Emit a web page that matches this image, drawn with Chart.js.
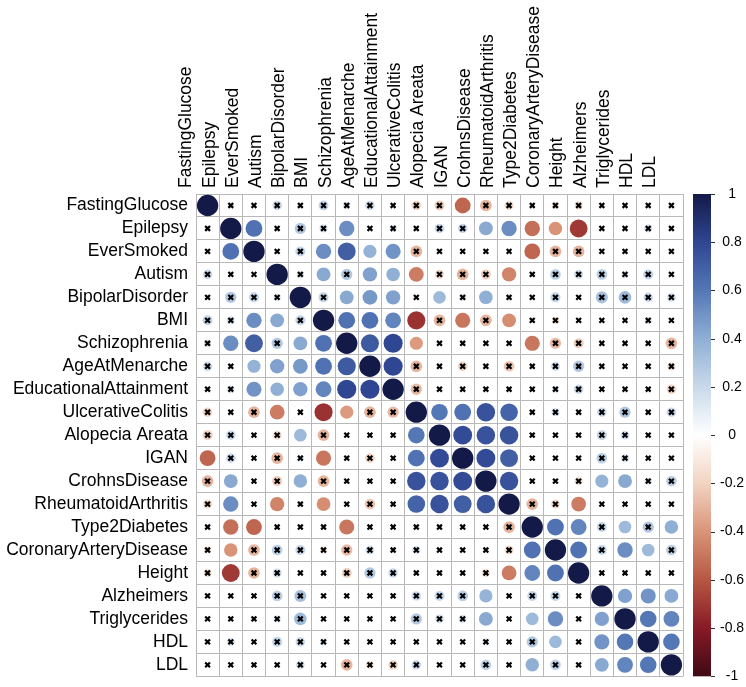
<!DOCTYPE html>
<html>
<head>
<meta charset="utf-8">
<script src="https://cdn.jsdelivr.net/npm/chart.js@4.4.0/dist/chart.umd.min.js"></script>
<style>
  html, body { margin: 0; padding: 0; background: #fff; }
  #wrap { width: 746px; height: 687px; }
</style>
</head>
<body>
<div id="wrap"><canvas id="corr" width="746" height="687"></canvas></div>
<script>
// trait names, same order on both axes
const traits = ['FastingGlucose', 'Epilepsy', 'EverSmoked', 'Autism', 'BipolarDisorder', 'BMI',
    'Schizophrenia', 'AgeAtMenarche', 'EducationalAttainment', 'UlcerativeColitis', 'Alopecia Areata',
    'IGAN', 'CrohnsDisease', 'RheumatoidArthritis', 'Type2Diabetes', 'CoronaryArteryDisease',
    'Height', 'Alzheimers', 'Triglycerides', 'HDL', 'LDL'];

// upper triangle of the correlation matrix, row i holds columns i+1 .. 20
const corrUpper = [
    [-0.07, 0.02, 0.2, -0.07, 0.22, 0.12, 0.2, 0.03, -0.2, -0.22, -0.55, -0.3, -0.18, 0.07, -0.12, -0.15, 0, 0, 0, 0],
    [0.62, -0.07, 0.28, 0.15, 0.52, 0.02, 0.12, 0, 0.2, 0.2, 0.42, 0.52, -0.52, -0.4, -0.7, 0, 0.07, 0.15, 0],
    [0, 0.22, 0.52, 0.7, 0.38, 0.5, -0.3, 0, 0, 0, 0, -0.55, -0.3, -0.3, 0, -0.08, 0, -0.07],
    [0.12, 0.42, 0.28, 0.45, 0.4, -0.48, -0.18, -0.3, -0.22, -0.45, 0.08, 0.25, 0.18, 0.25, 0.12, 0.22, 0],
    [0.22, 0.42, 0.48, 0.45, 0.02, 0.35, 0.12, 0.4, 0.1, 0.05, 0.22, 0.03, 0.32, 0.35, 0.2, 0.17],
    [0.62, 0.62, 0.55, -0.72, -0.3, -0.5, -0.3, -0.42, -0.08, -0.12, 0, 0.03, 0.03, 0.12, 0],
    [0.72, 0.8, -0.38, 0, -0.07, 0, 0, -0.5, -0.28, -0.22, 0, 0, 0, -0.3],
    [0.8, -0.3, 0, -0.2, -0.06, -0.25, 0, 0.18, 0.28, 0, 0, 0, -0.15],
    [-0.28, 0, 0, 0, -0.08, 0, 0.1, 0.2, 0, 0, 0, -0.2],
    [0.6, 0.62, 0.75, 0.68, 0.08, 0.15, 0, 0.2, 0.28, 0, 0.2],
    [0.78, 0.75, 0.75, -0.07, 0, -0.06, 0.22, 0.17, 0, 0],
    [0.78, 0.7, 0, 0, 0, 0.25, 0.15, 0, 0],
    [0.75, 0, 0.08, -0.15, 0.38, 0.42, 0.12, 0.25],
    [-0.3, -0.18, -0.48, 0, 0, -0.04, 0],
    [0.62, 0.55, 0.22, 0.35, 0.28, 0.4],
    [0.62, 0.22, 0.52, 0.35, 0.25],
    [0.05, 0, 0, 0],
    [0.45, 0.5, 0.42],
    [0.6, 0.55],
    [0.6]
];

// 1 = significant (solid circle), 0 = not significant (crossed out)
const sigUpper = [
    [0, 0, 0, 0, 0, 0, 0, 0, 0, 0, 1, 0, 0, 0, 0, 0, 0, 0, 0, 0],
    [1, 0, 0, 0, 1, 0, 0, 0, 0, 0, 1, 1, 1, 1, 1, 0, 0, 0, 0],
    [0, 0, 1, 1, 1, 1, 0, 0, 0, 0, 0, 1, 0, 0, 0, 0, 0, 0],
    [0, 1, 0, 1, 1, 1, 0, 0, 0, 1, 0, 0, 0, 0, 0, 0, 0],
    [0, 1, 1, 1, 0, 1, 0, 1, 0, 0, 0, 0, 0, 0, 0, 0],
    [1, 1, 1, 1, 0, 1, 0, 1, 0, 0, 0, 0, 0, 0, 0],
    [1, 1, 1, 0, 0, 0, 0, 1, 0, 0, 0, 0, 0, 0],
    [1, 0, 0, 0, 0, 0, 0, 0, 0, 0, 0, 0, 0],
    [0, 0, 0, 0, 0, 0, 0, 0, 0, 0, 0, 0],
    [1, 1, 1, 1, 0, 0, 0, 0, 0, 0, 0],
    [1, 1, 1, 0, 0, 0, 0, 0, 0, 0],
    [1, 1, 0, 0, 0, 0, 0, 0, 0],
    [1, 0, 0, 0, 1, 1, 0, 0],
    [0, 0, 1, 0, 0, 0, 0],
    [1, 1, 0, 1, 0, 1],
    [1, 0, 1, 1, 0],
    [0, 0, 0, 0],
    [1, 1, 1],
    [1, 1],
    [1]
];

// colour bar ticks
const barTicks = [1, 0.8, 0.6, 0.4, 0.2, 0, -0.2, -0.4, -0.6, -0.8, -1];

// diverging palette, from -1 to 1
const palette = ['#3f0a16', '#871a26', '#b65743', '#d99478', '#f2d4c1', '#ffffff',
    '#c9d9eb', '#8fafd4', '#5477b6', '#2f4692', '#141a48'];

const n = traits.length;

function hexToRgb(h) {
    return [parseInt(h.slice(1, 3), 16), parseInt(h.slice(3, 5), 16), parseInt(h.slice(5, 7), 16)];
}

function colorFor(v) {
    const t = (Math.max(-1, Math.min(1, v)) + 1) / 2 * (palette.length - 1);
    const i = Math.min(Math.floor(t), palette.length - 2);
    const f = t - i;
    const a = hexToRgb(palette[i]);
    const b = hexToRgb(palette[i + 1]);
    const c = a.map((x, k) => Math.round(x + (b[k] - x) * f));
    return `rgb(${c[0]},${c[1]},${c[2]})`;
}

// build the full symmetric matrix
const circles = [];
const crosses = [];
for (let i = 0; i < n; i++) {
    for (let j = 0; j < n; j++) {
        let v, s;
        if (i === j) { v = 1; s = 1; }
        else if (j > i) { v = corrUpper[i][j - i - 1]; s = sigUpper[i][j - i - 1]; }
        else { v = corrUpper[j][i - j - 1]; s = sigUpper[j][i - j - 1]; }
        circles.push({ x: traits[j], y: traits[i], v: v });
        if (!s) crosses.push({ x: traits[j], y: traits[i], v: v });
    }
}

function cellSize(chart) {
    const a = chart.chartArea;
    return a ? (a.right - a.left) / n : 23.2;
}

// draws the colour legend on the right
const colorBar = {
    id: 'colorBar',
    afterDraw(chart) {
        const ctx = chart.ctx;
        const s = chart.scales.cb;
        const x0 = chart.chartArea.right + 10;
        const w = 18;
        const top = s.getPixelForValue(1);
        const bottom = s.getPixelForValue(-1);
        const g = ctx.createLinearGradient(0, bottom, 0, top);
        palette.forEach((c, k) => g.addColorStop(k / (palette.length - 1), c));
        ctx.save();
        ctx.fillStyle = g;
        ctx.fillRect(x0, top, w, bottom - top);
        ctx.strokeStyle = '#333';
        ctx.lineWidth = 1;
        barTicks.forEach(t => {
            const y = Math.round(s.getPixelForValue(t)) + 0.5;
            ctx.beginPath();
            ctx.moveTo(x0 + w, y);
            ctx.lineTo(x0 + w + 4, y);
            ctx.stroke();
        });
        ctx.restore();
    }
};

const gridColor = '#b8b8b8';
const labelFont = { family: "'Liberation Sans', Arial, sans-serif", size: 17.5 };

// keep the plot area fixed: no extra room for overhanging tick labels
function noPad(s) {
    s.paddingTop = 0;
    s.paddingBottom = 0;
    s.paddingLeft = 0;
    s.paddingRight = 0;
}

new Chart(document.getElementById('corr'), {
    type: 'bubble',
    data: {
        datasets: [
            {
                // non-significant marks, drawn on top
                data: crosses,
                pointStyle: 'crossRot',
                radius: 3.4,
                borderColor: '#000',
                borderWidth: 2.2,
                backgroundColor: 'rgba(0,0,0,0)'
            },
            {
                data: circles,
                radius: ctx => cellSize(ctx.chart) * 0.46 * Math.sqrt(Math.abs(ctx.raw.v)),
                backgroundColor: ctx => colorFor(ctx.raw.v),
                borderWidth: 0
            }
        ]
    },
    options: {
        responsive: false,
        devicePixelRatio: 1,
        animation: false,
        events: [],
        layout: { padding: { top: 0, left: 0, right: 0, bottom: 6 } },
        plugins: { legend: { display: false }, tooltip: { enabled: false } },
        scales: {
            x: {
                type: 'category',
                labels: traits,
                position: 'top',
                offset: true,
                afterFit: s => { s.height = 194; noPad(s); },
                grid: { color: gridColor, lineWidth: 1, offset: true, drawTicks: false },
                border: { color: gridColor },
                ticks: {
                    autoSkip: false, minRotation: 90, maxRotation: 90,
                    padding: 6, color: '#000', font: labelFont
                }
            },
            y: {
                type: 'category',
                labels: traits,
                position: 'left',
                offset: true,
                afterFit: s => { s.width = 196; noPad(s); },
                grid: { color: gridColor, lineWidth: 1, offset: true, drawTicks: false },
                border: { color: gridColor },
                ticks: { autoSkip: false, padding: 8, color: '#000', font: labelFont }
            },
            cb: {
                type: 'linear',
                position: 'right',
                min: -1,
                max: 1,
                afterFit: s => { s.width = 63; noPad(s); },
                afterBuildTicks: s => { s.ticks = barTicks.map(v => ({ value: v })); },
                grid: { display: false, drawTicks: false, drawOnChartArea: false },
                border: { display: false },
                ticks: {
                    padding: 37,
                    crossAlign: 'center',
                    color: '#000',
                    font: { family: "'Liberation Sans', Arial, sans-serif", size: 14 },
                    callback: v => String(Math.round(v * 10) / 10)
                }
            }
        }
    },
    plugins: [colorBar]
});
</script>
</body>
</html>
